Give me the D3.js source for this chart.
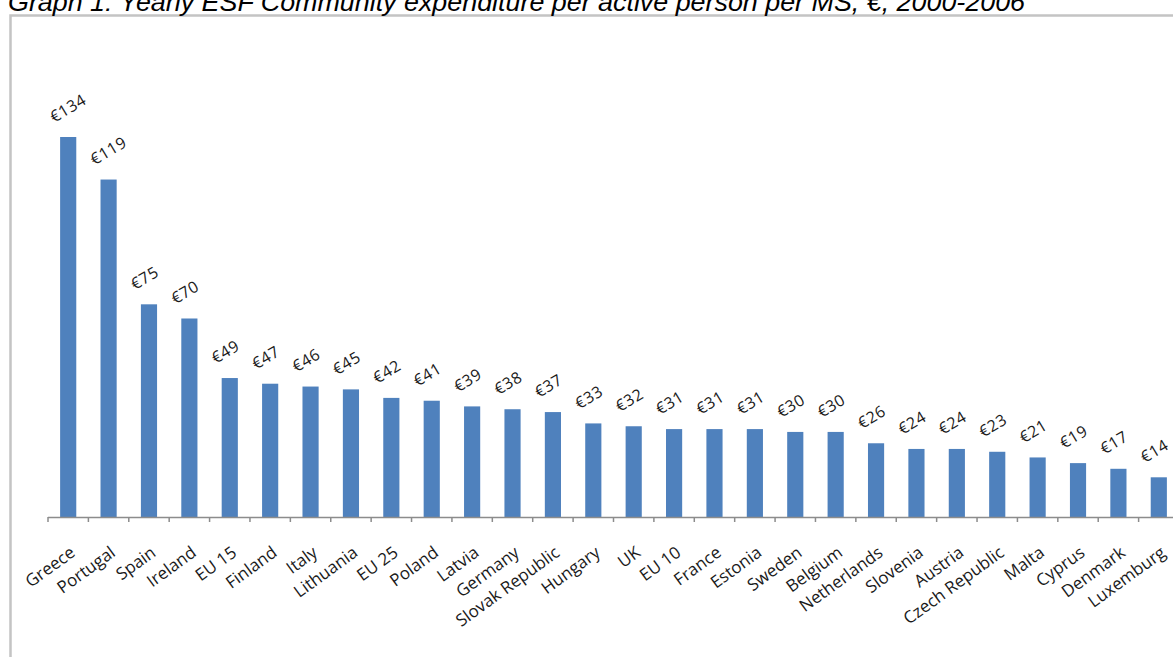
<!DOCTYPE html>
<html>
<head>
<meta charset="utf-8">
<script src="https://cdn.jsdelivr.net/npm/d3@7"></script>
<style>
  body { margin: 0; background: #fff; overflow: hidden; }
</style>
</head>
<body>
<script>
// ESF expenditure per active person, euro
var countries = ["Greece", "Portugal", "Spain", "Ireland", "EU 15", "Finland", "Italy", "Lithuania",
    "EU 25", "Poland", "Latvia", "Germany", "Slovak Republic", "Hungary", "UK", "EU 10", "France",
    "Estonia", "Sweden", "Belgium", "Netherlands", "Slovenia", "Austria", "Czech Republic", "Malta",
    "Cyprus", "Denmark", "Luxemburg"];
var values = [134, 119, 75, 70, 49, 47, 46, 45, 42, 41, 39, 38, 37, 33, 32, 31, 31, 31, 30, 30,
    26, 24, 24, 23, 21, 19, 17, 14];

var width = 1173, height = 657;
var baseY = 517;

var svg = d3.select("body")
    .append("svg")
    .attr("width", width)
    .attr("height", height);

// frame around the chart
svg.append("rect")
    .attr("x", 10.5)
    .attr("y", 15.5)
    .attr("width", width + 20)
    .attr("height", height + 20)
    .style("fill", "none")
    .style("stroke", "#c4c4c4")
    .style("stroke-width", 2.5);

svg.append("text")
    .attr("x", 8)
    .attr("y", 11)
    .attr("font-family", "Liberation Sans, Arial, sans-serif")
    .attr("font-style", "italic")
    .attr("font-size", "26.5px")
    .attr("textLength", 1017)
    .attr("lengthAdjust", "spacingAndGlyphs")
    .attr("fill", "#000")
    .text("Graph 1: Yearly ESF Community expenditure per active person per MS, €, 2000-2006");

var x = d3.scaleBand()
    .domain(countries)
    .range([48, 1179])
    .paddingInner(0.6)
    .paddingOuter(0.3);

var y = d3.scaleLinear()
    .domain([0, 134])
    .range([baseY, 137]);

svg.selectAll(".bar")
    .data(countries)
    .enter()
    .append("rect")
    .attr("class", "bar")
    .attr("x", function(d) { return x(d); })
    .attr("width", x.bandwidth())
    .attr("y", function(d, i) { return y(values[i]); })
    .attr("height", function(d, i) { return baseY - y(values[i]); })
    .style("fill", "#4f81bd");

// value labels
svg.selectAll(".val")
    .data(countries)
    .enter()
    .append("text")
    .attr("class", "val")
    .attr("transform", function(d, i) {
        var cx = x(d) + x.bandwidth() / 2 - 14;
        return "translate(" + cx + "," + (y(values[i]) - 14) + ") rotate(-31)";
    })
    .attr("font-family", "Open Sans, sans-serif")
    .attr("font-size", "16px")
    .attr("letter-spacing", "0.6px")
    .attr("fill", "#1a1a1a")
    .text(function(d, i) { return "€" + values[i]; });

// axis
var step = x.step();
svg.append("line")
    .attr("x1", 48).attr("x2", 1179)
    .attr("y1", baseY + 0.5).attr("y2", baseY + 0.5)
    .style("stroke", "#8c8c8c")
    .style("stroke-width", 1.5);

var tickPos = d3.range(countries.length + 1).map(function(i) { return 48 + i * step; });
svg.selectAll(".tick")
    .data(tickPos)
    .enter()
    .append("line")
    .attr("x1", function(d) { return d; })
    .attr("x2", function(d) { return d; })
    .attr("y1", baseY)
    .attr("y2", baseY + 5)
    .style("stroke", "#8c8c8c")
    .style("stroke-width", 1.5);

svg.selectAll(".cat")
    .data(countries)
    .enter()
    .append("text")
    .attr("class", "cat")
    .attr("transform", function(d) {
        var cx = x(d) + x.bandwidth() / 2 + 8;
        return "translate(" + cx + "," + (baseY + 38) + ") rotate(-36)";
    })
    .attr("text-anchor", "end")
    .attr("font-family", "Open Sans, sans-serif")
    .attr("font-size", "17px")
    .attr("fill", "#1a1a1a")
    .text(function(d) { return d; });
</script>
</body>
</html>
